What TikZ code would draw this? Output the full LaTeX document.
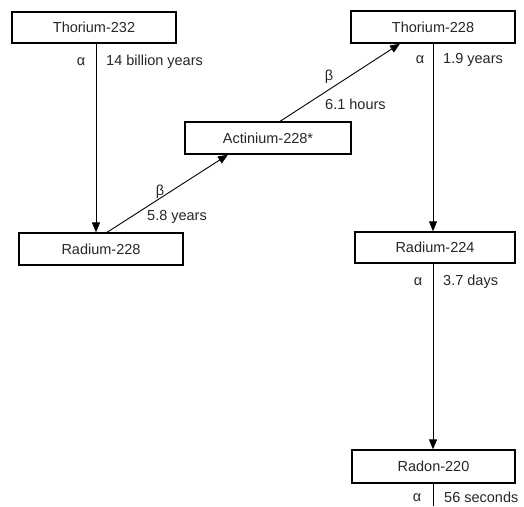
\documentclass[tikz,border=0pt]{standalone}
\usepackage{fontspec}
\setmainfont{Liberation Sans}
\usetikzlibrary{arrows.meta}
\begin{document}
\begin{tikzpicture}[x=1pt,y=-1pt,
  nuc/.style={draw, line width=1.3pt, inner sep=0pt, font=\fontsize{14.5}{16}\selectfont, text=black!85},
  lbl/.style={inner sep=0pt, font=\fontsize{14.5}{16}\selectfont, text=black!85},
  arr/.style={line width=0.9pt, -{Triangle[length=10pt,width=8pt]}},
  plain/.style={line width=0.9pt}]
\useasboundingbox (0,0) rectangle (524,506);
\node[nuc, minimum width=164pt, minimum height=31pt] (t232) at (94,27.5) {Thorium-232};
\node[nuc, minimum width=164pt, minimum height=32pt] (r228) at (101,249) {Radium-228};
\node[nuc, minimum width=166pt, minimum height=32pt] (ac) at (268,138) {Actinium-228*};
\node[nuc, minimum width=164pt, minimum height=32pt] (t228) at (433,27) {Thorium-228};
\node[nuc, minimum width=160pt, minimum height=31pt] (r224) at (435,247.5) {Radium-224};
\node[nuc, minimum width=163pt, minimum height=33pt] (rn) at (433.5,466.5) {Radon-220};
\coordinate (end) at (433,506);
\coordinate (s2) at (r224.south -| end);
\coordinate (n3) at (rn.north -| end);

\draw[arr] ([xshift=2pt]t232.south) -- ([xshift=2pt]t232.south |- r228.north);
\draw[arr] ([xshift=6pt]r228.north) -- ([xshift=-40pt]ac.south);
\draw[arr] ([xshift=12pt]ac.north) -- ([xshift=-33pt]t228.south);
\draw[arr] (t228.south) -- (t228.south |- r224.north);
\draw[arr] (s2) -- (n3);
\draw[plain] (rn.south -| end) -- (end);

\node[lbl] (a1) at (81,62) {α};
\node[lbl, anchor=west] (h1) at (106,62) {14 billion years};
\node[lbl] (b1) at (160,192) {β};
\node[lbl, anchor=west] (h2) at (147,217) {5.8 years};
\node[lbl] (b2) at (329,77) {β};
\node[lbl, anchor=west] (h3) at (325,104) {6.1 hours};
\node[lbl] (a2) at (420,60) {α};
\node[lbl, anchor=west] (h4) at (443,60) {1.9 years};
\node[lbl] (a3) at (418,282) {α};
\node[lbl, anchor=west] (h5) at (443,282) {3.7 days};
\node[lbl] (a4) at (417,497.5) {α};
\node[lbl, anchor=west] (h6) at (444,497) {56 seconds};
\end{tikzpicture}
\end{document}
